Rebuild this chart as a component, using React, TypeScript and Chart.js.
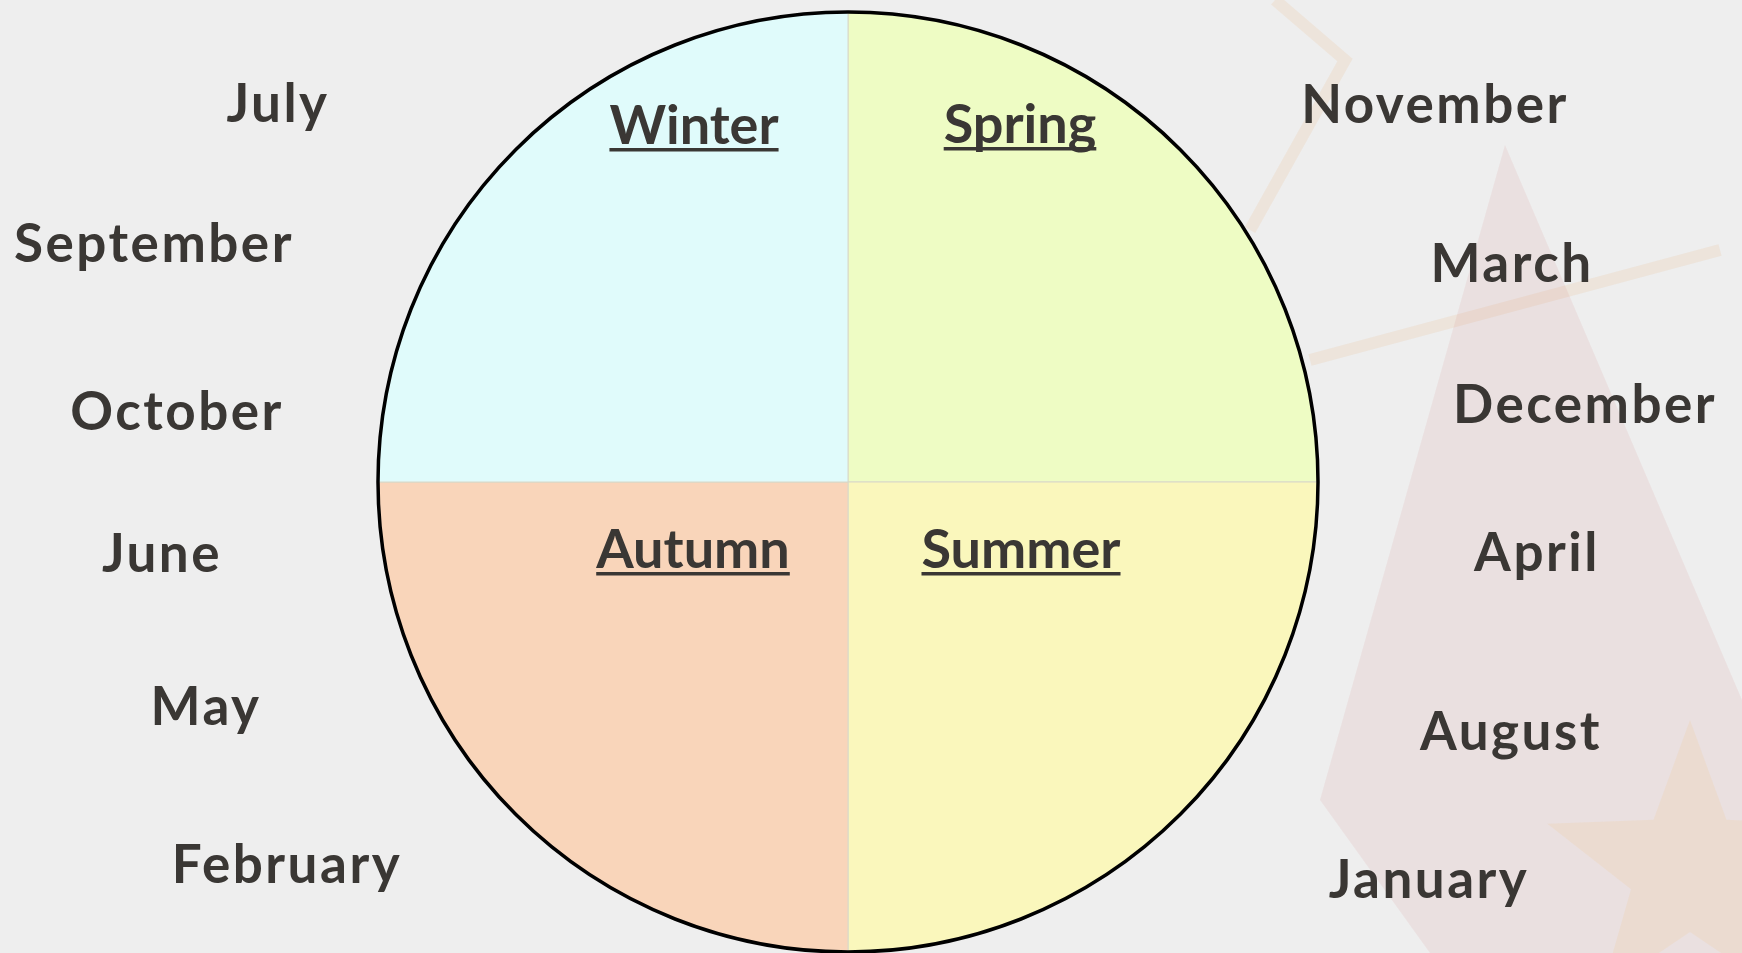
import React, { useEffect, useRef } from 'react';
import { Chart, registerables } from 'chart.js';

Chart.register(...registerables);

// ---- data ----
const seasons = ['Spring', 'Summer', 'Autumn', 'Winter'];
const seasonShares = [1, 1, 1, 1];
const seasonColors = ['#EEFCC4', '#FAF7BC', '#F9D5BA', '#E0FBFB'];
const leftMonths = ['July', 'September', 'October', 'June', 'May', 'February'];
const rightMonths = ['November', 'March', 'December', 'April', 'August', 'January'];

// ---- layout (text placement, px) ----
const seasonLabelOffsets: Record<string, [number, number]> = {
  Spring: [172, -339],
  Summer: [173, 86],
  Autumn: [-155, 86],
  Winter: [-154, -338],
};
const leftMonthPos: [number, number][] = [
  [278, 122], [154, 262], [177, 430], [162, 572], [206, 725], [287, 883],
];
const rightMonthPos: [number, number][] = [
  [1435, 123], [1512, 282], [1585, 423], [1537, 571], [1511, 750], [1429, 898],
];

const TEXT = '#3a3734';
const FONT = '"Lato", "Open Sans", sans-serif';

const backdrop = {
  id: 'backdrop',
  beforeDraw(chart: any) {
    const c = chart.ctx;
    c.save();
    c.fillStyle = '#EEEEEE';
    c.fillRect(0, 0, chart.width, chart.height);
    // faint decorative shapes on the right (background picture)
    c.globalAlpha = 0.13;
    c.strokeStyle = '#e8a060';
    c.lineWidth = 12;
    c.beginPath();
    c.moveTo(1275, 0);
    c.lineTo(1345, 60);
    c.lineTo(1250, 230);
    c.stroke();
    c.beginPath();
    c.moveTo(1310, 360);
    c.lineTo(1720, 250);
    c.stroke();
    c.globalAlpha = 0.1;
    c.fillStyle = '#d07070';
    c.beginPath();
    c.moveTo(1505, 145);
    c.lineTo(1742, 700);
    c.lineTo(1742, 953);
    c.lineTo(1430, 953);
    c.lineTo(1320, 800);
    c.closePath();
    c.fill();
    c.globalAlpha = 0.18;
    c.fillStyle = '#f2c98a';
    c.beginPath();
    const sx = 1690, sy = 870, R = 150, r = 62;
    for (let i = 0; i < 10; i++) {
      const a = -Math.PI / 2 + (i * Math.PI) / 5;
      const rr = i % 2 === 0 ? R : r;
      const px = sx + rr * Math.cos(a);
      const py = sy + rr * Math.sin(a);
      if (i === 0) c.moveTo(px, py); else c.lineTo(px, py);
    }
    c.closePath();
    c.fill();
    c.restore();
  },
};

const overlay = {
  id: 'overlay',
  afterDatasetsDraw(chart: any) {
    const c = chart.ctx;
    const meta = chart.getDatasetMeta(0);
    const arc = meta.data[0];
    const cx = arc.x, cy = arc.y, R = arc.outerRadius;
    c.save();
    // outer black ring
    c.beginPath();
    c.arc(cx, cy, R, 0, Math.PI * 2);
    c.lineWidth = 3.5;
    c.strokeStyle = '#000000';
    c.stroke();

    // season labels (underlined)
    c.fillStyle = TEXT;
    c.strokeStyle = TEXT;
    c.font = `bold 54px ${FONT}`;
    c.textAlign = 'center';
    c.textBaseline = 'alphabetic';
    (c as any).letterSpacing = '0px';
    seasons.forEach((s) => {
      const [dx, dy] = seasonLabelOffsets[s];
      const x = cx + dx, y = cy + dy;
      c.fillText(s, x, y);
      const w = c.measureText(s).width;
      c.fillRect(x - w / 2, y + 4, w, 3.5);
    });

    // month labels
    c.font = `bold 53px ${FONT}`;
    (c as any).letterSpacing = '2.5px';
    leftMonths.forEach((m, i) => {
      const [x, y] = leftMonthPos[i];
      c.fillText(m, x, y);
    });
    rightMonths.forEach((m, i) => {
      const [x, y] = rightMonthPos[i];
      c.fillText(m, x, y);
    });
    c.restore();
  },
};

export default function App() {
  const ref = useRef<HTMLCanvasElement | null>(null);
  useEffect(() => {
    document.body.style.margin = '0';
    const chart = new Chart(ref.current as HTMLCanvasElement, {
      type: 'pie',
      data: {
        labels: seasons,
        datasets: [
          {
            data: seasonShares,
            backgroundColor: seasonColors,
            borderColor: '#d8d8c8',
            borderWidth: 1,
            hoverOffset: 0,
          },
        ],
      },
      options: {
        animation: false,
        responsive: true,
        maintainAspectRatio: false,
        radius: 470,
        layout: { padding: { top: 11, bottom: 0, left: 0, right: 46 } },
        plugins: {
          legend: { display: false },
          tooltip: { enabled: false },
        },
        events: [],
      } as any,
      plugins: [backdrop, overlay],
    });
    return () => chart.destroy();
  }, []);
  return (
    <div style={{ position: 'fixed', left: 0, top: 0, width: 1742, height: 953, background: '#EEEEEE' }}>
      <canvas ref={ref} />
    </div>
  );
}
